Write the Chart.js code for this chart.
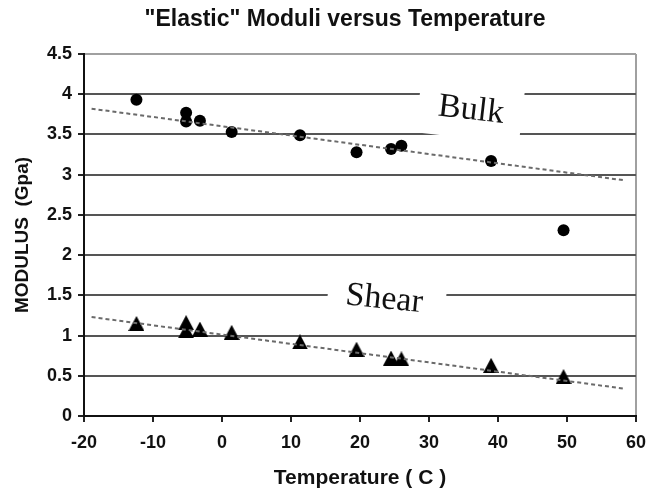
<!DOCTYPE html>
<html>
<head>
<meta charset="utf-8">
<script src="https://cdn.jsdelivr.net/npm/chart.js@4.4.1/dist/chart.umd.min.js"></script>
<style>
  html, body { margin: 0; padding: 0; background: #fff; }
  #wrap { width: 656px; height: 499px; }
</style>
</head>
<body>
<div id="wrap"><canvas id="chart" width="656" height="499"></canvas></div>
<script>
// Measured temperatures (deg C) shared by both moduli
const temperatures = [-12.4, -5.2, -5.2, -3.2, 1.4, 11.3, 19.5, 24.5, 26.0, 39.0, 49.5];
// Bulk modulus (GPa)
const bulkModulus = [3.93, 3.77, 3.66, 3.67, 3.53, 3.49, 3.28, 3.32, 3.36, 3.17, 2.31];
// Shear modulus (GPa)
const shearModulus = [1.15, 1.16, 1.06, 1.08, 1.04, 0.92, 0.83, 0.72, 0.71, 0.63, 0.49];

// Linear trend line end points
const trendTemperatures = [-18.9, 58.3];
const bulkTrend = [3.82, 2.93];
const shearTrend = [1.23, 0.34];

// Axis ranges and steps
const xRange = [-20, 60];
const xStep = 10;
const yRange = [0, 4.5];
const yStep = 0.5;

// Curve captions, anchored in data coordinates
const captionTexts = ['Bulk', 'Shear'];
const captionTemps = [36.1, 23.5];
const captionValues = [3.80, 1.45];

const chartTitle = '"Elastic" Moduli versus Temperature';

const pairs = (xs, ys) => xs.map((x, i) => ({ x, y: ys[i] }));

function triangleMarker(w, h, color) {
  const c = document.createElement('canvas');
  c.width = w; c.height = h;
  const g = c.getContext('2d');
  g.fillStyle = color;
  g.beginPath();
  g.moveTo(w / 2, 0);
  g.lineTo(w, h);
  g.lineTo(0, h);
  g.closePath();
  g.fill();
  return c;
}

// White panel behind each caption that breaks the grid lines, then the caption text
const captionStyle = [
  { angle: 6.5, boxDx: -1, boxDy: 2, boxW: 104, boxH: 52 },
  { angle: 6.0, boxDx: 2, boxDy: 4, boxW: 118, boxH: 48 }
];
const curveCaptions = {
  id: 'curveCaptions',
  beforeDatasetsDraw(chart) {
    const { ctx, scales: { x, y } } = chart;
    captionTexts.forEach((text, i) => {
      const st = captionStyle[i];
      const px = x.getPixelForValue(captionTemps[i]);
      const py = y.getPixelForValue(captionValues[i]);
      const a = st.angle * Math.PI / 180;
      ctx.save();
      ctx.translate(px + st.boxDx, py + st.boxDy);
      ctx.rotate(a);
      ctx.fillStyle = '#fff';
      ctx.fillRect(-st.boxW / 2, -st.boxH / 2, st.boxW, st.boxH);
      ctx.restore();
      ctx.save();
      ctx.translate(px, py);
      ctx.rotate(a);
      ctx.fillStyle = '#111';
      ctx.font = '34px "Liberation Serif", "Times New Roman", serif';
      ctx.textAlign = 'center';
      ctx.textBaseline = 'middle';
      ctx.fillText(text, 0, 0);
      ctx.restore();
    });
  }
};

// Heading drawn in the reserved top band, slightly right of the canvas centre
const heading = {
  id: 'heading',
  afterDraw(chart) {
    const { ctx } = chart;
    ctx.save();
    ctx.fillStyle = '#111';
    ctx.font = 'bold 23px "Liberation Sans", Arial, sans-serif';
    ctx.textAlign = 'center';
    ctx.textBaseline = 'middle';
    ctx.fillText(chartTitle, 345, 20);
    ctx.restore();
  }
};

const tickFont = { family: '"Liberation Sans", Arial, sans-serif', size: 18, weight: 'bold' };
const fmt = v => String(Number(Number(v).toFixed(1)));

new Chart(document.getElementById('chart'), {
  type: 'scatter',
  data: {
    datasets: [
      {
        label: 'Bulk trend',
        type: 'line',
        data: pairs(trendTemperatures, bulkTrend),
        borderColor: '#6a6a6a',
        borderWidth: 2,
        borderDash: [4, 3],
        pointRadius: 0,
        fill: false
      },
      {
        label: 'Shear trend',
        type: 'line',
        data: pairs(trendTemperatures, shearTrend),
        borderColor: '#6a6a6a',
        borderWidth: 2,
        borderDash: [4, 3],
        pointRadius: 0,
        fill: false
      },
      {
        label: 'Bulk',
        data: pairs(temperatures, bulkModulus),
        pointStyle: 'circle',
        pointRadius: 6,
        backgroundColor: '#000',
        borderColor: '#000',
        borderWidth: 0
      },
      {
        label: 'Shear',
        data: pairs(temperatures, shearModulus),
        pointStyle: triangleMarker(16, 15, '#000'),
        pointRadius: 8
      }
    ]
  },
  options: {
    responsive: false,
    animation: false,
    events: [],
    layout: { padding: { left: 0, right: 13, top: 54, bottom: 0 } },
    plugins: {
      legend: { display: false },
      tooltip: { enabled: false },
      title: { display: false }
    },
    scales: {
      x: {
        type: 'linear',
        min: xRange[0],
        max: xRange[1],
        ticks: { stepSize: xStep, color: '#111', font: tickFont, padding: 10, maxRotation: 0, callback: fmt },
        grid: {
          color: c => (c.tick && c.tick.value === xRange[1]) ? '#a0a0a0' : 'rgba(0,0,0,0)',
          lineWidth: 2,
          tickColor: '#222',
          tickLength: 6
        },
        border: { color: '#111', width: 2 },
        title: {
          display: true,
          text: 'Temperature ( C )',
          color: '#111',
          font: { family: '"Liberation Sans", Arial, sans-serif', size: 21, weight: 'bold' },
          padding: { top: 8, bottom: 8.4 }
        },
        afterFit(s) { s.height = 83; }
      },
      y: {
        type: 'linear',
        min: yRange[0],
        max: yRange[1],
        ticks: { stepSize: yStep, color: '#111', font: tickFont, padding: 6, callback: fmt },
        grid: {
          color: c => (c.tick && c.tick.value === yRange[1]) ? '#a0a0a0' : '#555',
          lineWidth: 2,
          tickColor: '#222',
          tickLength: 6
        },
        border: { color: '#111', width: 2 },
        title: {
          display: true,
          text: 'MODULUS  (Gpa)',
          color: '#111',
          font: { family: '"Liberation Sans", Arial, sans-serif', size: 19, weight: 'bold' },
          padding: { top: 11, bottom: 0 }
        },
        afterFit(s) { s.width = 84; }
      }
    }
  },
  plugins: [curveCaptions, heading]
});
</script>
</body>
</html>
